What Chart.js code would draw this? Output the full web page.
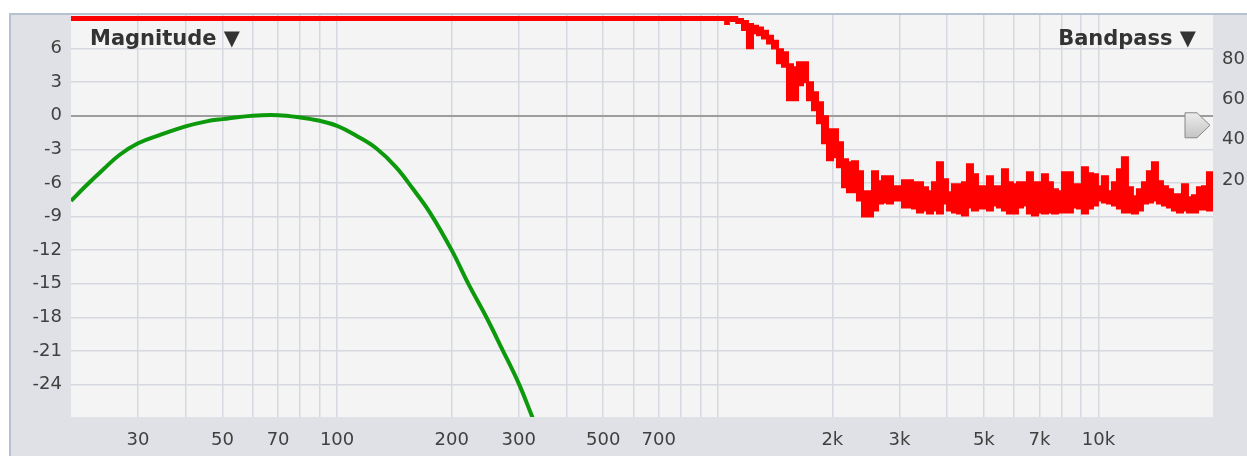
<!DOCTYPE html>
<html>
<head>
<meta charset="utf-8">
<title>Magnitude / Bandpass</title>
<script src="https://cdn.jsdelivr.net/npm/chart.js@4.4.1/dist/chart.umd.min.js"></script>
<style>
  html, body { margin: 0; padding: 0; background: #fff; }
  canvas { display: block; }
</style>
</head>
<body>
<canvas id="magChart" width="1247" height="456"></canvas>
<script>
// grid + labels
const xGrid = [30, 40, 50, 60, 70, 80, 90, 100, 200, 300, 400, 500, 600, 700, 800, 900,
  1000, 2000, 3000, 4000, 5000, 6000, 7000, 8000, 9000, 10000];
const xLabels = { 30: "30", 50: "50", 70: "70", 100: "100", 200: "200", 300: "300",
  500: "500", 700: "700", 2000: "2k", 3000: "3k", 5000: "5k", 7000: "7k", 10000: "10k" };
const magTicks = [6, 3, 0, -3, -6, -9, -12, -15, -18, -21, -24];
const bandTicks = [20, 40, 60, 80];

// green magnitude curve (dB)
const magFreq = [20, 21.9, 24.3, 26.8, 30, 34.3, 40, 45.4, 50, 60, 70, 80, 90, 100,
  112.6, 126.7, 143, 158, 175, 200, 222, 246, 272, 300, 324, 340];
const magDb = [-7.6, -6.25, -4.8, -3.5, -2.45, -1.7, -0.95, -0.5, -0.3, 0.0, 0.05, -0.15, -0.45, -0.9,
  -1.8, -2.9, -4.6, -6.5, -8.6, -12.0, -15.1, -17.9, -20.9, -23.9, -26.7, -28.5];

// red bandpass trace, upper and lower edge of the band
const redFreq = [20, 1000, 1040, 1058, 1075, 1100,
  1144, 1179, 1215, 1253, 1291, 1331, 1372, 1414, 1457, 1502,
  1548, 1596, 1645, 1695, 1747, 1801, 1856, 1913, 1972, 2032,
  2095, 2159, 2225, 2294, 2364, 2437, 2512, 2589, 2668, 2750,
  2835, 2922, 3011, 3104, 3199, 3297, 3398, 3503, 3610, 3721,
  3835, 3953, 4074, 4199, 4328, 4461, 4598, 4739, 4885, 5035,
  5189, 5349, 5513, 5682, 5856, 6036, 6222, 6413, 6609, 6812,
  7022, 7237, 7459, 7688, 7924, 8168, 8418, 8677, 8943, 9218,
  9501, 9793, 10093, 10403, 10723, 11052, 11391, 11741, 12102, 12474,
  12857, 13252, 13659, 14078, 14511, 14957, 15416, 15889, 16377, 16880,
  17399, 17933, 18484, 19052, 19637, 20000];
const redHigh = [101, 101, 101, 100.5, 101, 101,
  100, 99, 97.5, 96.7, 95.8, 94.2, 91.7, 89.2, 85, 83.5,
  77.5, 76, 78.5, 78.5, 68.5, 63.5, 58.5, 51.5, 45, 45,
  38.5, 30, 28.5, 29, 24, 14, 14, 24, 19, 21.5,
  21.5, 16.5, 16.5, 19.5, 19.5, 18.5, 18.5, 16, 14, 18.5,
  28.5, 20, 13.5, 17.5, 17.5, 18.5, 27.5, 22.5, 16.5, 16.5,
  21.5, 16.5, 16.5, 25, 18.5, 17.5, 18.5, 18.5, 23.5, 18.5,
  18.5, 22.5, 18.5, 15, 14, 23.5, 23.5, 17.5, 17.5, 26,
  23, 22.5, 16.5, 21.5, 14, 18.5, 25, 31, 16, 11.5,
  15, 18.5, 24, 28.5, 19, 16.5, 15, 12.5, 12.5, 17.5,
  11, 12, 16, 16.5, 23.5, 18.5];
const redLow = [100, 100, 100, 98, 100, 99.5,
  98.5, 95, 86, 93.5, 92.5, 90.8, 88.3, 85.8, 78.5, 76.7,
  60, 60, 67.5, 69, 60, 55, 48.5, 38.5, 30, 31.5,
  26.5, 16.5, 14, 14, 10, 2, 2, 5, 8.5, 9,
  8.5, 10, 10, 6.5, 6.5, 6, 4, 5, 3.5, 5,
  3.5, 8.5, 5, 4, 3.5, 2.5, 6.5, 5, 6, 6,
  5, 7.5, 6.5, 5, 3.5, 3.5, 6.5, 7.5, 3.5, 2.5,
  4, 3.5, 4, 3.5, 4, 4, 4, 6.5, 6, 3.5,
  6, 7.5, 10, 9, 8.5, 7.5, 6, 4, 4, 3.5,
  5, 8.5, 9, 10, 8.5, 7.5, 6.5, 5, 4, 5,
  4, 4, 5.5, 5.5, 5, 5];

const toPoints = (xs, ys) => xs.map((x, i) => ({ x: x, y: ys[i] }));

const xFont = { family: "'DejaVu Sans', sans-serif", size: 18 };
// small lineHeight keeps the y-axis label padding from pushing the plot top down
const yFont = { family: "'DejaVu Sans', sans-serif", size: 18, lineHeight: 0.5 };

const framePlugin = {
  id: "frame",
  beforeDraw(chart) {
    const c = chart.ctx;
    const a = chart.chartArea;
    c.save();
    c.fillStyle = "#ffffff";
    c.fillRect(0, 0, chart.width, chart.height);
    c.fillStyle = "#e0e1e6";
    c.fillRect(9, 13, chart.width - 9, chart.height - 13);
    c.strokeStyle = "#b6c2d2";
    c.lineWidth = 2;
    c.beginPath();
    c.moveTo(10, chart.height);
    c.lineTo(10, 14);
    c.lineTo(chart.width, 14);
    c.stroke();
    c.fillStyle = "#f4f4f4";
    c.fillRect(a.left, a.top, a.right - a.left, a.bottom - a.top);
    c.restore();
  },
  afterDraw(chart) {
    const c = chart.ctx;
    const a = chart.chartArea;
    c.save();
    c.fillStyle = "#333333";
    c.font = "bold 21px 'DejaVu Sans', sans-serif";
    c.textBaseline = "alphabetic";
    c.textAlign = "left";
    c.fillText("Magnitude \u25BC", a.left + 19, 45);
    c.textAlign = "right";
    c.fillText("Bandpass \u25BC", a.right - 17, 45);

    // little pointer handle on the right edge
    const y0 = chart.scales.y.getPixelForValue(0) - 3;
    const xl = a.right - 28;
    const grad = c.createLinearGradient(0, y0, 0, y0 + 25);
    grad.addColorStop(0, "#ececec");
    grad.addColorStop(1, "#c4c4c4");
    c.fillStyle = grad;
    c.strokeStyle = "#878787";
    c.lineWidth = 1;
    c.beginPath();
    c.moveTo(xl, y0);
    c.lineTo(xl + 12, y0);
    c.lineTo(xl + 25, y0 + 12.5);
    c.lineTo(xl + 12, y0 + 25);
    c.lineTo(xl, y0 + 25);
    c.closePath();
    c.fill();
    c.stroke();
    c.restore();
  }
};

new Chart(document.getElementById("magChart"), {
  type: "line",
  data: {
    datasets: [
      {
        label: "Magnitude",
        data: toPoints(magFreq, magDb),
        yAxisID: "y",
        borderColor: "#0c990c",
        borderWidth: 4,
        pointRadius: 0,
        tension: 0.4,
        clip: 0
      },
      {
        label: "Bandpass high",
        data: toPoints(redFreq, redHigh),
        yAxisID: "y2",
        borderColor: "#ff0000",
        borderWidth: 3,
        pointRadius: 0,
        stepped: "middle",
        fill: false
      },
      {
        label: "Bandpass low",
        data: toPoints(redFreq, redLow),
        yAxisID: "y2",
        borderColor: "#ff0000",
        backgroundColor: "#ff0000",
        borderWidth: 3,
        pointRadius: 0,
        stepped: "middle",
        fill: "-1"
      }
    ]
  },
  options: {
    responsive: false,
    animation: false,
    devicePixelRatio: 1,
    layout: { padding: { top: 15, left: 0, right: 0, bottom: 0 } },
    plugins: { legend: { display: false }, tooltip: { enabled: false } },
    scales: {
      x: {
        type: "logarithmic",
        min: 20,
        max: 20000,
        afterBuildTicks: s => { s.ticks = xGrid.map(v => ({ value: v })); },
        afterFit: s => { s.height = 39; },
        grid: { color: "#d5d8df", lineWidth: 1.5, drawTicks: false },
        border: { display: false },
        ticks: {
          autoSkip: false,
          maxRotation: 0,
          padding: 13,
          color: "#404040",
          font: xFont,
          callback: v => xLabels[v] || ""
        }
      },
      y: {
        position: "left",
        min: -26.9,
        max: 9,
        afterBuildTicks: s => { s.ticks = magTicks.map(v => ({ value: v })); },
        afterFit: s => { s.width = 71; },
        grid: {
          drawTicks: false,
          color: c => (c.tick && c.tick.value === 0 ? "#9d9d9d" : "#d5d8df"),
          lineWidth: c => (c.tick && c.tick.value === 0 ? 2 : 1.5)
        },
        border: { display: false },
        ticks: { padding: 9, color: "#404040", font: yFont }
      },
      y2: {
        position: "right",
        min: -98.4,
        max: 102.3,
        afterBuildTicks: s => { s.ticks = bandTicks.map(v => ({ value: v })); },
        afterFit: s => { s.width = 34; },
        grid: { display: false, drawTicks: false },
        border: { display: false },
        ticks: { padding: 9, color: "#404040", font: yFont }
      }
    }
  },
  plugins: [framePlugin]
});
</script>
</body>
</html>
